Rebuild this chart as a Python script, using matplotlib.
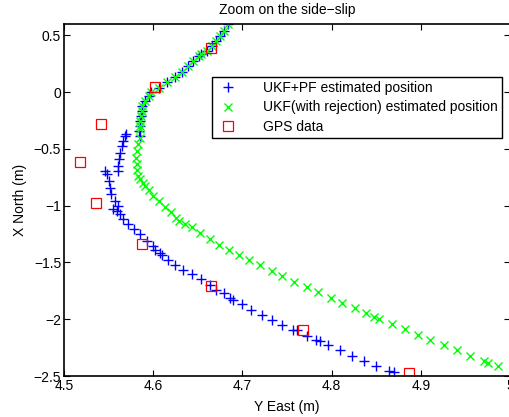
import numpy as np
import matplotlib.pyplot as plt

plt.rcParams['font.family'] = ['Liberation Sans', 'DejaVu Sans']

# UKF+PF estimated position (Y East, X North)
pf_y = [4.684, 4.680, 4.675, 4.670, 4.666, 4.660, 4.654, 4.651, 4.645, 4.639,
        4.632, 4.624, 4.616, 4.607, 4.598, 4.595, 4.591, 4.588, 4.587, 4.586,
        4.585, 4.585, 4.584, 4.585,
        4.570, 4.568, 4.566, 4.565, 4.563, 4.562, 4.561, 4.561,
        4.546, 4.548, 4.550, 4.552, 4.553, 4.557, 4.561, 4.555, 4.559, 4.563,
        4.566, 4.572, 4.578, 4.585, 4.593, 4.600, 4.602, 4.608, 4.610, 4.617,
        4.624, 4.634, 4.643, 4.654, 4.664, 4.671, 4.679, 4.686, 4.690, 4.700,
        4.710, 4.722, 4.733, 4.745, 4.757, 4.761, 4.772, 4.783, 4.787, 4.796,
        4.809, 4.823, 4.836, 4.850, 4.864, 4.870]
pf_x = [0.600, 0.541, 0.497, 0.453, 0.409, 0.365, 0.335, 0.320, 0.276, 0.227,
        0.179, 0.130, 0.086, 0.035, -0.003, -0.033, -0.077, -0.121, -0.165, -0.209,
        -0.253, -0.297, -0.342, -0.386,
        -0.371, -0.386, -0.430, -0.474, -0.532, -0.591, -0.650, -0.695,
        -0.695, -0.724, -0.783, -0.841, -0.900, -0.959, -1.004, -1.033, -1.048, -1.077,
        -1.121, -1.165, -1.209, -1.253, -1.312, -1.357, -1.386, -1.415, -1.430, -1.474,
        -1.518, -1.562, -1.606, -1.650, -1.695, -1.739, -1.768, -1.812, -1.827, -1.865,
        -1.915, -1.959, -2.004, -2.052, -2.096, -2.096, -2.145, -2.180, -2.195, -2.229,
        -2.274, -2.321, -2.365, -2.412, -2.454, -2.462]

# UKF (with rejection) estimated position
ukf_y = [4.684, 4.680, 4.675, 4.670, 4.666, 4.660, 4.654, 4.651, 4.645, 4.639,
         4.632, 4.624, 4.616, 4.607, 4.598, 4.595, 4.591, 4.588, 4.587, 4.586,
         4.585, 4.585, 4.585, 4.585, 4.583, 4.582, 4.581, 4.582, 4.582, 4.583,
         4.585, 4.589, 4.591, 4.595, 4.600, 4.607, 4.613, 4.620, 4.626, 4.629,
         4.636, 4.643, 4.653, 4.664, 4.674, 4.685, 4.696, 4.707, 4.720, 4.733,
         4.745, 4.758, 4.772, 4.785, 4.799, 4.812, 4.826, 4.839, 4.848, 4.853,
         4.868, 4.882, 4.897, 4.911, 4.926, 4.941, 4.955, 4.971, 4.976, 4.987]
ukf_x = [0.600, 0.541, 0.497, 0.453, 0.409, 0.365, 0.335, 0.320, 0.276, 0.227,
         0.179, 0.130, 0.086, 0.035, -0.003, -0.033, -0.077, -0.121, -0.165, -0.209,
         -0.253, -0.297, -0.327, -0.400, -0.459, -0.518, -0.576, -0.635, -0.688, -0.741,
         -0.768, -0.799, -0.830, -0.865, -0.915, -0.962, -1.011, -1.059, -1.108, -1.139,
         -1.161, -1.191, -1.240, -1.289, -1.342, -1.386, -1.430, -1.474, -1.524, -1.577,
         -1.621, -1.668, -1.715, -1.763, -1.812, -1.856, -1.900, -1.948, -1.981, -1.995,
         -2.041, -2.089, -2.136, -2.180, -2.229, -2.274, -2.321, -2.365, -2.383, -2.416]

# GPS data
gps_y = [4.665, 4.602, 4.541, 4.518, 4.536, 4.587, 4.665, 4.768, 4.887]
gps_x = [0.388, 0.049, -0.278, -0.613, -0.974, -1.333, -1.711, -2.092, -2.471]

fig = plt.figure(figsize=(5.09, 4.17), dpi=100)
ax = fig.add_axes([0.1257, 0.0983, 0.876, 0.8441])

ax.plot(pf_y, pf_x, '+', color='#0000ff', markersize=7.5, markeredgewidth=1.0,
        label='UKF+PF estimated position')
ax.plot(ukf_y, ukf_x, 'x', color='#00ff00', markersize=5.5, markeredgewidth=1.0,
        label='UKF(with rejection) estimated position')
ax.plot(gps_y, gps_x, 's', markerfacecolor='none', markeredgecolor='#ff0000',
        markersize=6.5, markeredgewidth=0.9, label='GPS data')

ax.set_xlim(4.5, 5.0)
ax.set_ylim(-2.5, 0.6)
ax.set_xticks([4.5, 4.6, 4.7, 4.8, 4.9, 5.0])
ax.set_xticklabels(['4.5', '4.6', '4.7', '4.8', '4.9', '5'])
ax.set_yticks([-2.5, -2, -1.5, -1, -0.5, 0, 0.5])
ax.set_yticklabels(['\u22122.5', '\u22122', '\u22121.5', '\u22121', '\u22120.5', '0', '0.5'])
ax.tick_params(direction='in', top=True, right=True, labelsize=10, length=4, width=0.8, pad=2)
for s in ax.spines.values():
    s.set_linewidth(1.2)

ax.set_xlabel('Y East (m)', fontsize=10, labelpad=5)
ax.set_ylabel('X North (m)', fontsize=10, labelpad=5)
ax.set_title('Zoom on the side\u2212slip', fontsize=10, pad=7)

leg = ax.legend(loc='upper right', bbox_to_anchor=(0.982, 0.849), fontsize=10,
                fancybox=False, framealpha=1, edgecolor='black', borderpad=0.3,
                labelspacing=0.37, handletextpad=1.6, handlelength=1.8, borderaxespad=0)
leg.get_frame().set_linewidth(1.0)

fig.savefig('out.png', dpi=100)
